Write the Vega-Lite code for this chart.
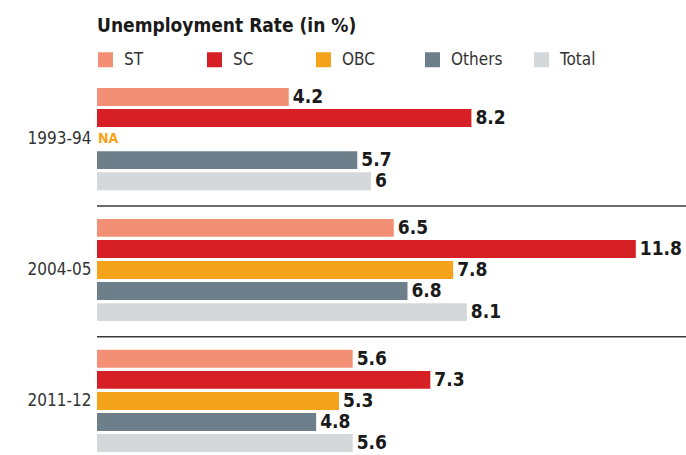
{
  "$schema": "https://vega.github.io/schema/vega-lite/v6.json",
  "width": 589,
  "height": 364,
  "autosize": {"type": "none"},
  "padding": {"left": 97, "top": 88, "right": 0, "bottom": 0},
  "background": "white",
  "title": {
    "text": "Unemployment Rate (in %)",
    "anchor": "start",
    "frame": "group",
    "font": "DejaVu Sans Condensed, Liberation Sans",
    "fontSize": 19,
    "fontWeight": "bold",
    "color": "#1a1a1a",
    "offset": 15
  },
  "config": {
    "view": {"stroke": null},
    "font": "DejaVu Sans Condensed, Liberation Sans"
  },
  "data": {
    "values": [
      {"period": "1993-94", "group": "ST", "value": 4.2},
      {"period": "1993-94", "group": "SC", "value": 8.2},
      {"period": "1993-94", "group": "OBC", "value": null},
      {"period": "1993-94", "group": "Others", "value": 5.7},
      {"period": "1993-94", "group": "Total", "value": 6},
      {"period": "2004-05", "group": "ST", "value": 6.5},
      {"period": "2004-05", "group": "SC", "value": 11.8},
      {"period": "2004-05", "group": "OBC", "value": 7.8},
      {"period": "2004-05", "group": "Others", "value": 6.8},
      {"period": "2004-05", "group": "Total", "value": 8.1},
      {"period": "2011-12", "group": "ST", "value": 5.6},
      {"period": "2011-12", "group": "SC", "value": 7.3},
      {"period": "2011-12", "group": "OBC", "value": 5.3},
      {"period": "2011-12", "group": "Others", "value": 4.8},
      {"period": "2011-12", "group": "Total", "value": 5.6}
    ]
  },
  "encoding": {
    "y": {
      "field": "period",
      "type": "nominal",
      "sort": ["1993-94", "2004-05", "2011-12"],
      "scale": {"paddingInner": 0.22, "paddingOuter": 0},
      "axis": {
        "title": null,
        "ticks": false,
        "domain": false,
        "labelFontSize": 17,
        "labelColor": "#333333",
        "labelPadding": 6,
        "labelFont": "DejaVu Sans Condensed, Liberation Sans"
      }
    }
  },
  "layer": [
    {
      "mark": {"type": "bar"},
      "encoding": {
        "x": {
          "field": "value",
          "type": "quantitative",
          "scale": {"domain": [0, 12.9], "nice": false},
          "axis": null
        },
        "yOffset": {
          "field": "group",
          "type": "nominal",
          "sort": ["ST", "SC", "OBC", "Others", "Total"],
          "scale": {"paddingInner": 0.15, "paddingOuter": 0}
        },
        "color": {
          "field": "group",
          "type": "nominal",
          "sort": ["ST", "SC", "OBC", "Others", "Total"],
          "scale": {
            "domain": ["ST", "SC", "OBC", "Others", "Total"],
            "range": ["#f38f75", "#d71f26", "#f6a31c", "#6e7f8c", "#d4d8db"]
          },
          "legend": {
            "title": null,
            "orient": "top",
            "direction": "horizontal",
            "columns": 5,
            "gridAlign": "all",
            "columnPadding": 30,
            "symbolType": "square",
            "symbolSize": 225,
            "symbolStrokeWidth": 0,
            "symbolOpacity": 1,
            "labelFontSize": 17,
            "labelColor": "#333333",
            "labelFont": "DejaVu Sans Condensed, Liberation Sans",
            "labelOffset": 10,
            "offset": 20,
            "padding": 0
          }
        }
      }
    },
    {
      "transform": [{"filter": "isValid(datum.value)"}],
      "mark": {
        "type": "text",
        "align": "left",
        "baseline": "middle",
        "dx": 4,
        "dy": 0,
        "fontSize": 19,
        "fontWeight": "bold",
        "font": "DejaVu Sans Condensed, Liberation Sans",
        "color": "#1a1a1a"
      },
      "encoding": {
        "x": {"field": "value", "type": "quantitative"},
        "yOffset": {"field": "group", "type": "nominal", "sort": ["ST", "SC", "OBC", "Others", "Total"]},
        "text": {"field": "value", "type": "quantitative", "format": ".1~f"}
      }
    },
    {
      "transform": [{"filter": "!isValid(datum.value)"}],
      "mark": {
        "type": "text",
        "align": "left",
        "baseline": "middle",
        "dx": 1,
        "fontSize": 14,
        "fontWeight": "bold",
        "font": "DejaVu Sans Condensed, Liberation Sans",
        "color": "#f6a31c"
      },
      "encoding": {
        "x": {"datum": 0, "type": "quantitative"},
        "yOffset": {"field": "group", "type": "nominal", "sort": ["ST", "SC", "OBC", "Others", "Total"]},
        "text": {"value": "NA"}
      }
    },
    {
      "data": {"values": [{"period": "2004-05"}, {"period": "2011-12"}]},
      "mark": {"type": "rule", "color": "#3a3a3a", "strokeWidth": 1.5, "yOffset": -13},
      "encoding": {
        "y": {"field": "period", "type": "nominal", "bandPosition": 0},
        "x": {"datum": 0, "type": "quantitative"},
        "x2": {"datum": 12.9}
      }
    }
  ]
}
